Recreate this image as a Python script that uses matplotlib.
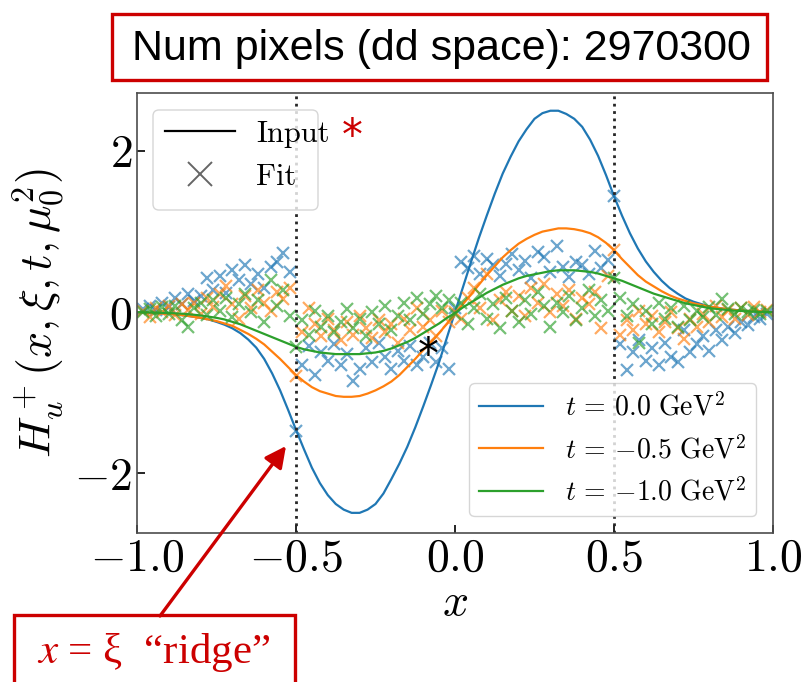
import numpy as np
import matplotlib
matplotlib.use("Agg")
import matplotlib.pyplot as plt
from matplotlib.lines import Line2D
from matplotlib.patches import Rectangle, FancyBboxPatch

plt.rcParams['font.family'] = 'serif'
plt.rcParams['font.serif'] = ['cmr10']
plt.rcParams['mathtext.fontset'] = 'cm'
plt.rcParams['axes.formatter.use_mathtext'] = True

# ---------------- data ----------------
x_curve = [-1.000, -0.975, -0.950, -0.925, -0.900, -0.875, -0.850, -0.825, -0.800, -0.775,
           -0.750, -0.725, -0.700, -0.675, -0.650, -0.625, -0.600, -0.575, -0.550, -0.525,
           -0.500, -0.475, -0.450, -0.425, -0.400, -0.375, -0.350, -0.325, -0.300, -0.275,
           -0.250, -0.225, -0.200, -0.175, -0.150, -0.125, -0.100, -0.075, -0.050, -0.025,
           0.000, 0.025, 0.050, 0.075, 0.100, 0.125, 0.150, 0.175, 0.200, 0.225,
           0.250, 0.275, 0.300, 0.325, 0.350, 0.375, 0.400, 0.425, 0.450, 0.475,
           0.500, 0.525, 0.550, 0.575, 0.600, 0.625, 0.650, 0.675, 0.700, 0.725,
           0.750, 0.775, 0.800, 0.825, 0.850, 0.875, 0.900, 0.925, 0.950, 0.975, 1.000]

input_t00 = [0.0, -0.005, -0.01, -0.015, -0.02, -0.03, -0.04, -0.055, -0.07, -0.09,
             -0.12, -0.155, -0.20, -0.26, -0.34, -0.44, -0.58, -0.76, -0.97, -1.21,
             -1.46, -1.70, -1.93, -2.12, -2.27, -2.38, -2.45, -2.49, -2.49, -2.45,
             -2.38, -2.25, -2.07, -1.88, -1.67, -1.43, -1.17, -0.90, -0.62, -0.31,
             0.00, 0.31, 0.62, 0.92, 1.20, 1.47, 1.72, 1.93, 2.12, 2.27,
             2.40, 2.47, 2.50, 2.50, 2.46, 2.40, 2.30, 2.14, 1.94, 1.70,
             1.44, 1.20, 0.98, 0.79, 0.63, 0.50, 0.39, 0.30, 0.23, 0.17,
             0.13, 0.10, 0.07, 0.055, 0.04, 0.03, 0.02, 0.015, 0.01, 0.005, 0.0]

input_t05 = [0.0, -0.005, -0.01, -0.015, -0.02, -0.03, -0.04, -0.055, -0.07, -0.09,
             -0.11, -0.14, -0.17, -0.22, -0.27, -0.33, -0.40, -0.49, -0.58, -0.68,
             -0.78, -0.86, -0.93, -0.98, -1.01, -1.04, -1.05, -1.05, -1.04, -1.01,
             -0.97, -0.92, -0.86, -0.78, -0.68, -0.58, -0.47, -0.37, -0.26, -0.14,
             -0.02, 0.10, 0.22, 0.34, 0.46, 0.57, 0.68, 0.77, 0.85, 0.91,
             0.96, 1.00, 1.02, 1.04, 1.04, 1.03, 1.01, 0.98, 0.93, 0.86,
             0.77, 0.66, 0.56, 0.46, 0.38, 0.32, 0.26, 0.21, 0.17, 0.14,
             0.11, 0.09, 0.07, 0.055, 0.04, 0.03, 0.02, 0.015, 0.01, 0.005, 0.0]

input_t10 = [0.0, -0.002, -0.005, -0.008, -0.01, -0.015, -0.02, -0.03, -0.04, -0.055,
             -0.07, -0.09, -0.12, -0.15, -0.19, -0.23, -0.27, -0.31, -0.35, -0.39,
             -0.43, -0.46, -0.48, -0.50, -0.51, -0.52, -0.52, -0.52, -0.52, -0.51,
             -0.50, -0.48, -0.45, -0.41, -0.37, -0.32, -0.26, -0.20, -0.14, -0.07,
             -0.01, 0.06, 0.12, 0.18, 0.24, 0.29, 0.34, 0.38, 0.42, 0.45,
             0.47, 0.49, 0.51, 0.52, 0.52, 0.52, 0.51, 0.50, 0.48, 0.45,
             0.42, 0.39, 0.35, 0.31, 0.27, 0.23, 0.20, 0.17, 0.14, 0.11,
             0.09, 0.07, 0.05, 0.04, 0.03, 0.02, 0.015, 0.01, 0.005, 0.002, 0.0]

x_fit = [-0.98, -0.96, -0.94, -0.92, -0.90, -0.88, -0.86, -0.84, -0.82, -0.80,
         -0.78, -0.76, -0.74, -0.72, -0.70, -0.68, -0.66, -0.64, -0.62, -0.60,
         -0.58, -0.56, -0.54, -0.52, -0.50, -0.48, -0.46, -0.44, -0.42, -0.40,
         -0.38, -0.36, -0.34, -0.32, -0.30, -0.28, -0.26, -0.24, -0.22, -0.20,
         -0.18, -0.16, -0.14, -0.12, -0.10, -0.08, -0.06, -0.04, -0.02, 0.00,
         0.02, 0.04, 0.06, 0.08, 0.10, 0.12, 0.14, 0.16, 0.18, 0.20,
         0.22, 0.24, 0.26, 0.28, 0.30, 0.32, 0.34, 0.36, 0.38, 0.40,
         0.42, 0.44, 0.46, 0.48, 0.50, 0.52, 0.54, 0.56, 0.58, 0.60,
         0.62, 0.64, 0.66, 0.68, 0.70, 0.72, 0.74, 0.76, 0.78, 0.80,
         0.82, 0.84, 0.86, 0.88, 0.90, 0.92, 0.94, 0.96, 0.98]

fit_t00 = [0.04, 0.08, 0.03, 0.12, 0.06, 0.18, 0.10, 0.22, 0.14, 0.20,
           0.43, 0.28, 0.45, 0.24, 0.52, 0.40, 0.58, 0.35, 0.48, 0.30,
           0.56, 0.62, 0.74, 0.50, -1.47, -0.65, -0.42, -0.78, -0.50, -0.60,
           -0.40, -0.66, -0.52, -0.85, -0.70, -0.45, -0.62, -0.38, -0.55, -0.70,
           -0.48, -0.60, -0.42, -0.66, -0.55, -0.38, -0.62, -0.45, -0.70, 0.05,
           0.62, 0.55, 0.70, 0.48, 0.66, 0.58, 0.45, 0.60, 0.72, 0.52,
           0.64, 0.42, 0.75, 0.68, 0.50, 0.82, 0.56, 0.44, 0.62, 0.58,
           0.48, 0.76, 0.55, 0.65, 1.44, -0.40, -0.72, -0.50, -0.35, -0.60,
           -0.45, -0.65, -0.38, -0.55, -0.62, -0.22, -0.50, -0.40, -0.30, -0.48,
           -0.22, -0.35, -0.18, -0.26, -0.12, -0.16, -0.06, -0.08, -0.02]

fit_t05 = [0.02, -0.06, 0.05, 0.00, 0.08, -0.04, 0.10, 0.03, 0.12, -0.02,
           0.18, 0.06, 0.22, 0.32, 0.10, -0.08, 0.20, 0.05, 0.28, 0.12,
           0.02, 0.25, 0.16, 0.30, -0.79, -0.25, 0.05, -0.15, -0.30, -0.08,
           -0.22, -0.35, -0.12, -0.28, -0.05, -0.20, -0.32, -0.10, -0.25, -0.15,
           -0.38, -0.08, -0.22, 0.05, -0.18, -0.10, -0.30, 0.02, -0.12, 0.00,
           -0.08, 0.18, 0.30, 0.05, 0.48, -0.10, 0.15, 0.25, 0.02, 0.20,
           -0.05, 0.30, 0.12, 0.35, 0.00, 0.22, 0.08, 0.28, -0.08, 0.18,
           0.10, 0.25, -0.20, 0.45, 0.77, -0.28, -0.10, -0.22, 0.02, -0.15,
           -0.05, -0.25, -0.12, 0.00, -0.20, -0.33, -0.08, -0.18, -0.02, -0.12,
           0.08, -0.06, 0.03, -0.08, 0.05, -0.03, 0.06, 0.00, 0.03]

fit_t10 = [0.00, 0.04, -0.05, 0.06, -0.02, 0.08, -0.10, -0.18, 0.05, 0.12,
           -0.03, 0.15, 0.02, 0.18, -0.06, 0.10, 0.22, 0.00, 0.15, -0.12,
           0.40, 0.08, 0.28, -0.05, -0.43, -0.10, -0.28, 0.02, -0.18, -0.05,
           -0.25, -0.12, 0.04, -0.20, -0.08, -0.30, 0.00, -0.15, 0.08, -0.22,
           -0.05, 0.12, -0.10, 0.18, -0.02, 0.10, 0.20, 0.05, 0.15, -0.02,
           0.12, -0.15, 0.05, 0.22, -0.08, 0.10, -0.20, 0.18, 0.02, -0.12,
           0.15, -0.02, 0.25, 0.08, -0.18, 0.12, 0.00, 0.20, -0.10, 0.05,
           0.28, -0.05, 0.15, 0.02, 0.42, 0.18, -0.05, 0.10, -0.38, 0.02,
           -0.15, 0.12, -0.08, 0.05, -0.18, 0.08, -0.10, 0.02, -0.06, 0.06,
           -0.04, 0.16, 0.04, -0.02, 0.05, 0.00, 0.03, -0.02, 0.01]

series_labels = [r'$t\,=\,0.0\ \mathrm{GeV}^2$', r'$t\,=\,{-}0.5\ \mathrm{GeV}^2$',
                 r'$t\,=\,{-}1.0\ \mathrm{GeV}^2$']
colors = ['#1f77b4', '#ff7f0e', '#2ca02c']
ridge_x = [-0.5, 0.5]
star_point = (-0.085, -0.42)

# ---------------- figure ----------------
fig = plt.figure(figsize=(8.01, 6.82), dpi=100)
ax = fig.add_axes([137/801, 1-533/682, (773-137)/801, (533-93)/682])

curves = [input_t00, input_t05, input_t10]
fits = [fit_t00, fit_t05, fit_t10]
line_handles = []
for yc, yf, c, lab in zip(curves, fits, colors, series_labels):
    h, = ax.plot(x_curve, yc, color=c, lw=1.6, label=lab)
    line_handles.append(h)
    ax.plot(x_fit, yf, ls='none', marker='x', ms=9, mew=1.6, color=c, alpha=0.65)

for xr in ridge_x:
    ax.axvline(xr, color='0.15', ls=':', lw=2.0)

ax.tick_params(direction='in', labelsize=33, length=6, width=1.2)
for s in ax.spines.values():
    s.set_color('0.3')
    s.set_linewidth(1.2)
ax.set_xlabel(r'$x$', fontsize=33, labelpad=2)
ax.set_ylabel(r'$H_u^+(x,\xi,t,\mu_0^2)$', fontsize=33, labelpad=6)

# legend 1 (Input / Fit) with a hand-placed frame
leg1 = ax.legend([Line2D([], [], color='k', lw=1.6),
                  Line2D([], [], color='0.25', ls='none', marker='x', ms=17, mew=1.4, alpha=0.8)],
                 ['Input', 'Fit'], loc='upper left', fontsize=22, frameon=False,
                 handlelength=2.3, handletextpad=0.7, borderaxespad=0.5)
leg1.set_zorder(6)
ax.add_artist(leg1)
frame1 = FancyBboxPatch((1.53, (682-210)/100), 1.65, 1.00,
                        boxstyle='round,pad=0,rounding_size=0.06',
                        transform=fig.dpi_scale_trans, fc='white', ec='0.8',
                        alpha=0.8, lw=1.0, zorder=5.5)
ax.add_artist(frame1)

ax.legend(handles=line_handles, loc='lower right', fontsize=20,
          handlelength=2.3, handletextpad=0.8, borderpad=0.35, borderaxespad=0.6)

ax.annotate('*', xy=star_point, xytext=(0, -7), textcoords='offset points',
            fontsize=30, color='k', family='DejaVu Sans', ha='center', va='center')

ax.set_xlim(-1, 1)
ax.set_ylim(-2.74, 2.72)
ax.set_xticks([-1.0, -0.5, 0.0, 0.5, 1.0])
ax.set_yticks([-2, 0, 2])

# ---------------- annotations ----------------
red = '#cc0000'
fig.patches.append(Rectangle((112/801, 1-80/682), (767-112)/801, (80-14)/682,
                             transform=fig.transFigure, fill=False, ec=red, lw=2.4))
fig.text((112+767)/2/801 + 0.003, 1-49/682, 'Num pixels (dd space): 2970300',
         family='Liberation Sans', fontsize=31, ha='center', va='center', color='k')

fig.patches.append(Rectangle((14/801, -0.02), (295-14)/801, 1-615/682+0.02,
                             transform=fig.transFigure, fill=False, ec=red, lw=2.4))
fig.text(154/801, 1-652/682, r'$x$ = ξ  “ridge”', family='Liberation Serif',
         math_fontfamily='stix', fontsize=31, ha='center', va='center', color=red)

fig.text(352/801, 1-137/682, '*', fontsize=30, color=red, family='DejaVu Sans',
         ha='center', va='center')

ax.annotate('', xy=(286, 682-446), xycoords='figure pixels',
            xytext=(160, 682-616), textcoords='figure pixels',
            arrowprops=dict(arrowstyle='-|>', color=red, lw=2.4, mutation_scale=32,
                            shrinkA=0, shrinkB=0))

fig.savefig('out.png', dpi=100)
